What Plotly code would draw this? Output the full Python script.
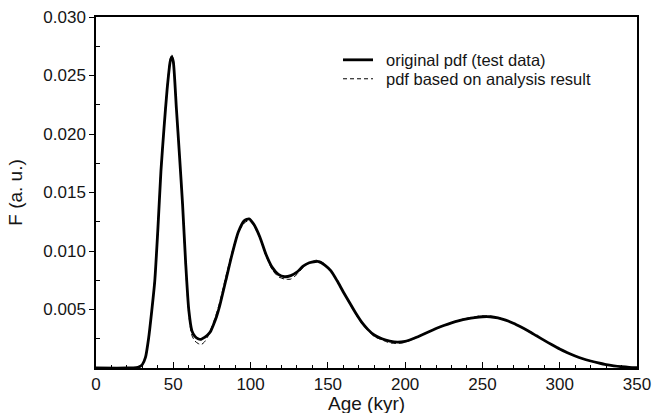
import plotly.graph_objects as go

# Age grid (kyr) and probability density values
age = [0, 20, 26, 28, 30, 32, 34, 36, 38, 40, 42, 44, 46, 48, 49, 50, 52, 54, 56, 58,
       60, 62, 64, 66, 68, 70, 72, 74, 76, 78, 80, 84, 88, 92, 96, 99, 102, 106, 110,
       114, 118, 122, 126, 130, 134, 138, 142, 144, 148, 152, 156, 160, 164, 168, 172,
       176, 180, 185, 190, 195, 200, 205, 210, 215, 220, 225, 230, 235, 240, 245, 250,
       255, 260, 265, 270, 275, 280, 285, 290, 295, 300, 305, 310, 315, 320, 325, 330,
       335, 340, 345, 350]

pdf_original = [0, 0, 0.00003, 0.0001, 0.0003, 0.0009, 0.0025, 0.0048, 0.0074, 0.0118,
                0.0168, 0.0205, 0.0238, 0.0262, 0.0266, 0.0262, 0.0222, 0.0182, 0.0140, 0.0090,
                0.0050, 0.0032, 0.0027, 0.0025, 0.00245, 0.0026, 0.0028, 0.0031, 0.0037, 0.0044,
                0.0053, 0.0075, 0.0097, 0.0116, 0.0126, 0.01275, 0.0123, 0.0112, 0.0097,
                0.0086, 0.0080, 0.0078, 0.0079, 0.0082, 0.0087, 0.0090, 0.0091, 0.0091, 0.0088,
                0.0083, 0.00745, 0.0065, 0.0056, 0.0047, 0.0039, 0.00328, 0.00282, 0.0025, 0.0023,
                0.00221, 0.00228, 0.0025, 0.00278, 0.00308, 0.00337, 0.00363, 0.00386, 0.00405,
                0.0042, 0.00431, 0.00438, 0.00438, 0.00428, 0.00409, 0.00383, 0.0035, 0.00314,
                0.00275, 0.00236, 0.00198, 0.00162, 0.00131, 0.00103, 0.00079, 0.0006, 0.00043,
                0.00028, 0.00018, 0.00011, 0.00006, 0.00003]

pdf_analysis = [0, 0, 0.00003, 0.0001, 0.0003, 0.0009, 0.0025, 0.0049, 0.0076, 0.0120,
                0.0170, 0.0207, 0.0240, 0.0264, 0.0268, 0.0263, 0.0221, 0.0180, 0.0137, 0.0086,
                0.0046, 0.0028, 0.0023, 0.0021, 0.0020, 0.0022, 0.0026, 0.0032, 0.0039, 0.0047,
                0.0056, 0.0078, 0.0099, 0.0116, 0.0124, 0.0126, 0.0122, 0.0111, 0.0096,
                0.0084, 0.0078, 0.0076, 0.0076, 0.0080, 0.0086, 0.0090, 0.0092, 0.0092, 0.0089,
                0.0083, 0.00745, 0.0065, 0.0055, 0.0046, 0.0038, 0.0032, 0.0027, 0.0024, 0.00215,
                0.0021, 0.0022, 0.00245, 0.00275, 0.00306, 0.00336, 0.00363, 0.00388, 0.00409,
                0.00426, 0.00438, 0.00446, 0.00444, 0.00432, 0.00411, 0.00384, 0.0035, 0.00313,
                0.00274, 0.00235, 0.00197, 0.00161, 0.0013, 0.00102, 0.00078, 0.00059, 0.00042,
                0.00028, 0.00018, 0.00011, 0.00006, 0.00003]

x_ticks = [0, 50, 100, 150, 200, 250, 300, 350]
y_ticks = [0.005, 0.010, 0.015, 0.020, 0.025, 0.030]
y_tick_labels = ["0.005", "0.010", "0.015", "0.020", "0.025", "0.030"]
series_names = ["original pdf (test data)", "pdf based on analysis result"]

FONT = "Liberation Sans, Arial, sans-serif"
INK = "#151515"

fig = go.Figure()
fig.add_trace(go.Scatter(
    x=age, y=pdf_original, mode="lines", name=series_names[0],
    line=dict(color="black", width=2.8, shape="spline", smoothing=0.6),
))
fig.add_trace(go.Scatter(
    x=age, y=pdf_analysis, mode="lines", name=series_names[1],
    line=dict(color="black", width=1, dash="5px,3px", shape="spline", smoothing=0.6),
))

# Compact in-plot key: short line samples with labels beside them
key_rows = [(0.878, 2.8, "solid"), (0.824, 1, "4px,3px")]
for (ky, lw, dash), label in zip(key_rows, series_names):
    fig.add_shape(type="line", xref="paper", yref="paper",
                  x0=0.4566, x1=0.512, y0=ky, y1=ky,
                  line=dict(color="black", width=lw, dash=dash))
    fig.add_annotation(xref="paper", yref="paper", x=0.533, y=ky,
                       xanchor="left", yanchor="middle", showarrow=False,
                       text=label, font=dict(family=FONT, size=16.5, color=INK))

# x-axis title placed just under the tick labels
fig.add_annotation(xref="paper", yref="paper", x=0.5, y=-0.1,
                   xanchor="center", yanchor="middle", showarrow=False,
                   text="Age (kyr)", font=dict(family=FONT, size=19, color=INK))

fig.update_layout(
    width=654, height=413,
    margin=dict(l=96, r=17, t=17, b=45),
    paper_bgcolor="white", plot_bgcolor="white",
    font=dict(family=FONT, size=17, color=INK),
    showlegend=False,
)

fig.update_xaxes(
    range=[0, 350], tickvals=x_ticks, automargin=False,
    ticks="inside", ticklen=6, tickwidth=1, tickcolor="black",
    minor=dict(dtick=10, ticks="inside", ticklen=3, tickcolor="black"),
    showline=True, linecolor="black", linewidth=1.5, mirror=True,
    showgrid=False, zeroline=False,
    tickfont=dict(family=FONT, size=17, color=INK),
)
fig.update_yaxes(
    range=[0, 0.030], tickvals=y_ticks, ticktext=y_tick_labels, automargin=False,
    ticks="outside", ticklen=5, tickwidth=1, tickcolor="black",
    minor=dict(tickvals=[0.0025, 0.0075, 0.0125, 0.0175, 0.0225, 0.0275],
               ticks="inside", ticklen=4, tickcolor="black"),
    showline=True, linecolor="black", linewidth=1.5, mirror=True,
    showgrid=False, zeroline=False,
    tickfont=dict(family=FONT, size=17, color=INK),
    title=dict(text="F (a. u.)", font=dict(family=FONT, size=19, color=INK), standoff=16),
)

fig.write_html("out.html")
